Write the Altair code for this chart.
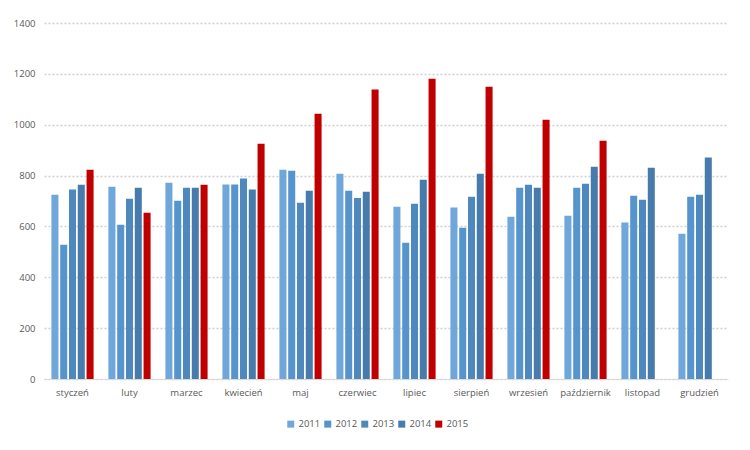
import altair as alt
import pandas as pd

months = ["styczeń", "luty", "marzec", "kwiecień", "maj", "czerwiec",
          "lipiec", "sierpień", "wrzesień", "październik", "listopad", "grudzień"]
years = ["2011", "2012", "2013", "2014", "2015"]
v2011 = [725, 756, 772, 765, 823, 807, 677, 674, 638, 642, 615, 571]
v2012 = [528, 607, 701, 765, 819, 740, 536, 595, 752, 752, 721, 717]
v2013 = [745, 709, 752, 788, 693, 712, 689, 717, 764, 768, 705, 725]
v2014 = [764, 752, 752, 745, 740, 736, 784, 807, 752, 835, 831, 871]
v2015 = [823, 654, 764, 925, 1043, 1138, 1181, 1149, 1020, 937, None, None]
colors = ["#6fa7da", "#5594cc", "#4e88bd", "#477bab", "#c00000"]

rows = []
for y, vals in zip(years, [v2011, v2012, v2013, v2014, v2015]):
    for m, v in zip(months, vals):
        if v is not None:
            rows.append({"miesiac": m, "rok": y, "wartosc": v})
df = pd.DataFrame(rows)

font = "Open Sans"
chart = alt.Chart(df).mark_bar().encode(
    x=alt.X("miesiac:N", sort=months, title=None,
            scale=alt.Scale(paddingInner=0.26, paddingOuter=0.13),
            axis=alt.Axis(labelAngle=0, ticks=False, domainColor="#d9d9d9",
                          labelColor="#595959", labelFont=font, labelFontSize=9.5,
                          labelPadding=8)),
    xOffset=alt.XOffset("rok:N", sort=years,
                        scale=alt.Scale(domain=years, paddingInner=0.2, paddingOuter=0)),
    y=alt.Y("wartosc:Q", title=None,
            scale=alt.Scale(domain=[0, 1400]),
            axis=alt.Axis(values=[0, 200, 400, 600, 800, 1000, 1200, 1400], format="d",
                          domain=False, ticks=False, labelColor="#595959",
                          labelFont=font, labelFontSize=9.5, labelPadding=9,
                          gridColor="#d0d0d0", gridDash=[2, 2], gridWidth=1.5)),
    color=alt.Color("rok:N", sort=years,
                    scale=alt.Scale(domain=years, range=colors),
                    legend=alt.Legend(title=None, orient="none", direction="horizontal",
                                      legendX=242, legendY=396, symbolType="square",
                                      symbolSize=49, symbolStrokeWidth=0,
                                      labelFont=font, labelFontSize=9.5,
                                      labelColor="#595959", columnPadding=2,
                                      labelOffset=3)),
).properties(
    width=684, height=356,
    autosize=alt.AutoSizeParams(type="none"),
    padding={"left": 36, "top": 15, "right": 14, "bottom": 63},
).configure_view(stroke=None)

chart.save("out.html", embed_options={"renderer": "svg", "actions": False})
